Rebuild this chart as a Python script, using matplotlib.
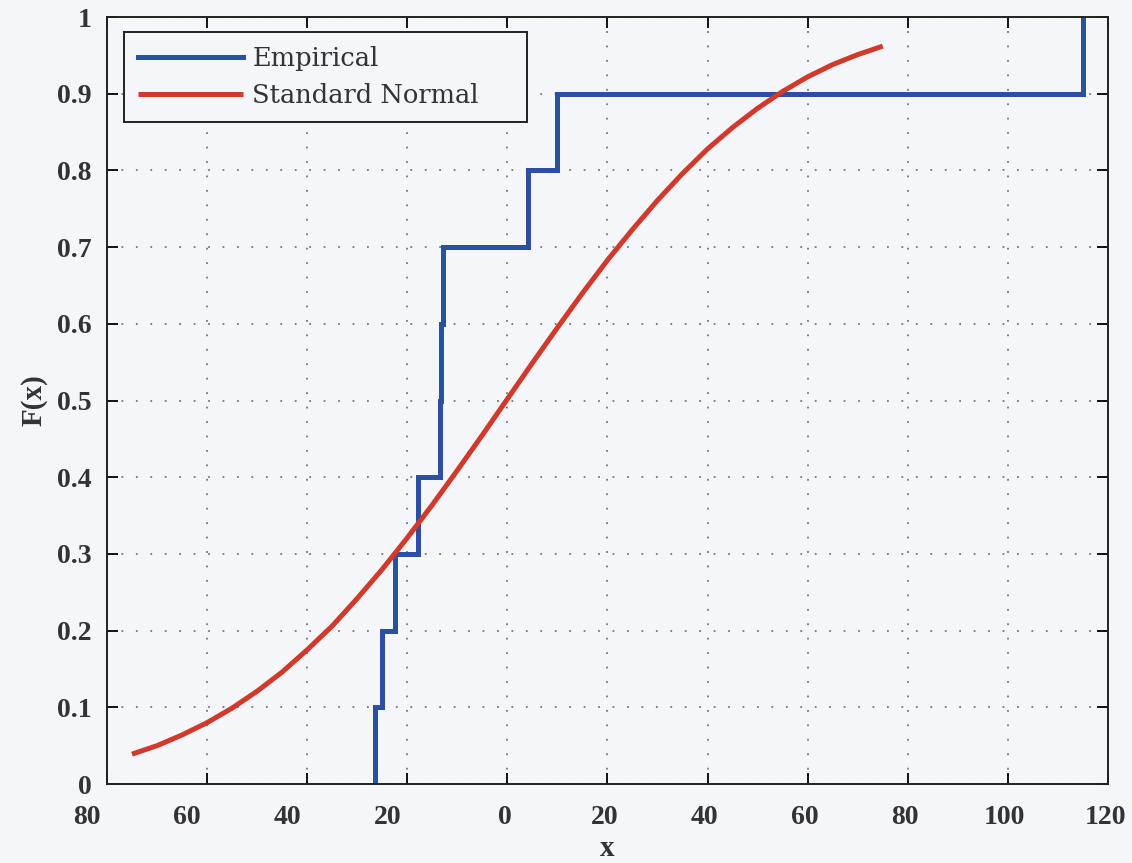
import matplotlib
matplotlib.use("Agg")
import matplotlib.pyplot as plt
from matplotlib.transforms import ScaledTranslation

# sorted sample points of the empirical CDF
emp_x = [-26.5, -25.0, -22.5, -17.9, -13.5, -13.2, -12.9, 4.2, 10.0, 115.0]
emp_f = [0.1, 0.2, 0.3, 0.4, 0.5, 0.6, 0.7, 0.8, 0.9, 1.0]

# fitted normal CDF
norm_x = [-75, -70, -65, -60, -55, -50, -45, -40, -35, -30, -25, -20, -15, -10, -5,
          0, 5, 10, 15, 20, 25, 30, 35, 40, 45, 50, 55, 60, 65, 70, 75]
norm_f = [0.039, 0.050, 0.064, 0.080, 0.099, 0.121, 0.146, 0.175, 0.206, 0.242, 0.280,
          0.321, 0.364, 0.409, 0.455, 0.502, 0.549, 0.595, 0.640, 0.683, 0.723,
          0.761, 0.796, 0.828, 0.856, 0.881, 0.903, 0.922, 0.938, 0.951, 0.962]

xticks = [-80, -60, -40, -20, 0, 20, 40, 60, 80, 100, 120]
xtick_labels = ["80", "60", "40", "20", "0", "20", "40", "60", "80", "100", "120"]
yticks = [0, 0.1, 0.2, 0.3, 0.4, 0.5, 0.6, 0.7, 0.8, 0.9, 1]
ytick_labels = ["0", "0.1", "0.2", "0.3", "0.4", "0.5", "0.6", "0.7", "0.8", "0.9", "1"]

plt.rcParams["font.family"] = "DejaVu Serif"

bg = "#f4f6f9"
txt = "#333333"
fig = plt.figure(figsize=(11.32, 8.63), dpi=100, facecolor=bg)
ax = fig.add_axes([0.0945, 0.0915, 0.8843, 0.8888], facecolor=bg)

# staircase: start at F=0, rise at every sample
sx = [emp_x[0]]
sy = [0.0]
prev = 0.0
for x, f in zip(emp_x, emp_f):
    sx += [x, x]
    sy += [prev, f]
    prev = f

ax.plot(sx, sy, color="#2b50a3", lw=3.6, label="Empirical", solid_joinstyle="miter")
ax.plot(norm_x, norm_f, color="#d2392b", lw=3.6, label="Standard Normal",
        solid_capstyle="butt")

ax.set_xlim(-80, 120)
ax.set_ylim(0, 1)
ax.set_xticks(xticks)
ax.set_xticklabels(xtick_labels)
ax.set_yticks(yticks)
ax.set_yticklabels(ytick_labels)
ax.tick_params(direction="in", length=8, width=1.3, top=True, right=True)
ax.tick_params(axis="x", pad=15)
ax.tick_params(axis="y", pad=11)
for lab in ax.get_xticklabels() + ax.get_yticklabels():
    lab.set_fontfamily("Liberation Serif")
    lab.set_fontweight("bold")
    lab.set_fontsize(20)
    lab.set_color(txt)

# the negative labels sit left of their ticks (their minus sign is missing)
for v, lab in zip(xticks, ax.get_xticklabels()):
    dx = -20 / 100 if v < 0 else -3 / 100
    lab.set_transform(lab.get_transform() + ScaledTranslation(dx, 0, fig.dpi_scale_trans))

ax.grid(True, linestyle=(0, (1, 7)), color="#777777", linewidth=1.3)
for s in ax.spines.values():
    s.set_linewidth(1.4)
    s.set_color("#222222")

ax.set_xlabel("x", fontsize=21, fontweight="bold", color=txt, labelpad=4,
              fontfamily="Liberation Serif")
ax.set_ylabel("F(x)", fontsize=21, fontweight="bold", color=txt, labelpad=7,
              fontfamily="Liberation Serif")

leg = ax.legend(loc="upper left", mode="expand",
                bbox_to_anchor=(0.017, 0.0, 0.4026, 0.9805),
                borderaxespad=0.0, prop={"family": "DejaVu Serif", "size": 18.5},
                handlelength=4.1, handletextpad=0.35, borderpad=0.55,
                labelspacing=0.45, fancybox=False, framealpha=1,
                facecolor=bg, edgecolor="#222222")
leg.get_frame().set_linewidth(1.4)
for t in leg.get_texts():
    t.set_color(txt)

fig.savefig("out.png", dpi=100, facecolor=bg)
